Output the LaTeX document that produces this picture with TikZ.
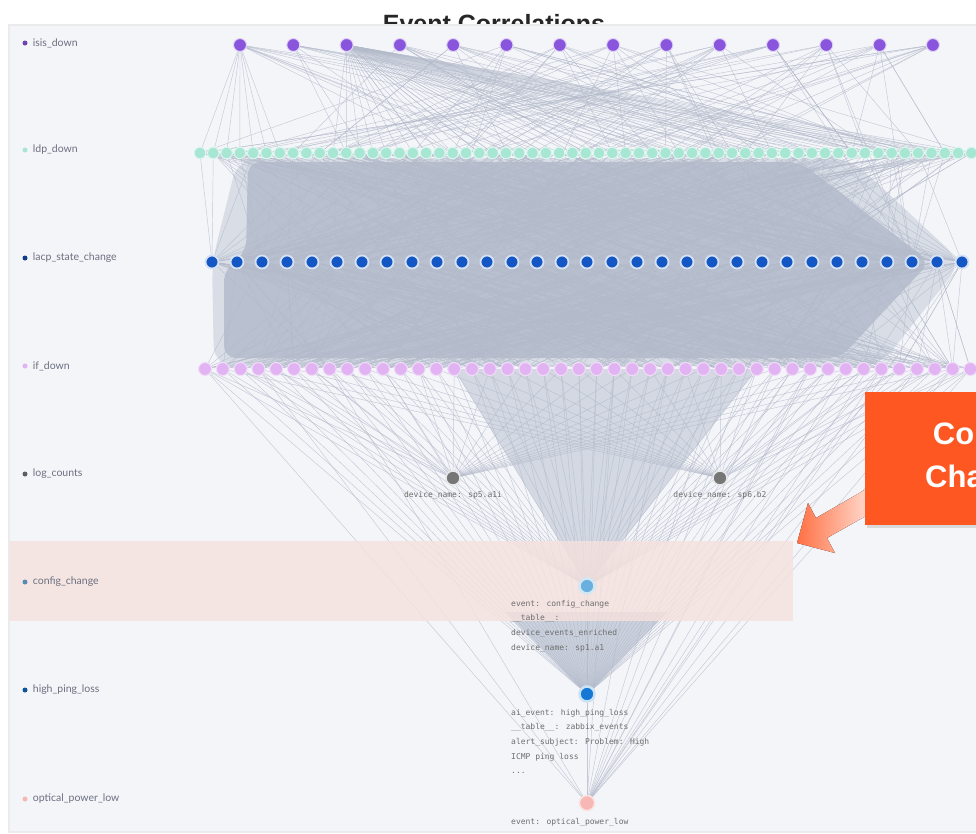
\documentclass[tikz,border=0pt]{standalone}
\usepackage{fontspec}
\setmainfont{Lato}
\newfontfamily\headfont{Liberation Sans}
\newfontfamily\codefont{DejaVu Sans Mono}
\usetikzlibrary{positioning}
\definecolor{panelbg}{HTML}{F4F5F9}
\definecolor{wirec}{HTML}{B3BACA}
\definecolor{meshc}{HTML}{B9C1D0}
\definecolor{labelc}{HTML}{6B7080}
\definecolor{codec}{HTML}{6E6E6E}
\definecolor{isisc}{HTML}{8A55DD}
\definecolor{ldpc}{HTML}{A6E6D2}
\definecolor{lacpc}{HTML}{1457C4}
\definecolor{ifc}{HTML}{E2B3F2}
\definecolor{logc}{HTML}{767676}
\definecolor{cfgc}{HTML}{6AB0DE}
\definecolor{hplc}{HTML}{1478D4}
\definecolor{oplc}{HTML}{F6B7B5}
\definecolor{bandc}{HTML}{F6E1DD}
\definecolor{calloutc}{HTML}{FF5722}
\pgfdeclarelayer{panel}
\pgfdeclarelayer{wires}
\pgfdeclarelayer{band}
\pgfsetlayers{panel,wires,band,main}
\begin{document}
\begin{tikzpicture}[
  x=1pt, y=-1pt,
  dot/.style={circle, inner sep=0pt},
  isisdot/.style={dot, fill=isisc, draw=isisc!25, line width=1pt, minimum size=13pt},
  ldpdot/.style={dot, fill=ldpc, draw=ldpc!40, line width=1pt, minimum size=11.5pt},
  lacpdot/.style={dot, fill=lacpc, draw=lacpc!18, line width=1.8pt, minimum size=13pt},
  ifdot/.style={dot, fill=ifc, draw=ifc!45, line width=1pt, minimum size=13pt},
  logdot/.style={dot, fill=logc, draw=logc!18, line width=1.5pt, minimum size=14pt},
  legdot/.style={dot, minimum size=5pt},
  rowlabel/.style={anchor=west, inner sep=0pt, text=labelc, font=\fontsize{10.5}{12}\selectfont},
  codelabel/.style={anchor=north west, inner sep=0pt, align=left, text=codec, font=\codefont\fontsize{8}{14.6}\selectfont},
  wire/.style={draw=wirec, line width=0.45pt, draw opacity=0.75}
]
\useasboundingbox (0,0) rectangle (976,833);

% title and panel
\begin{pgfonlayer}{panel}
\fill[white] (0,0) rectangle (976,833);
\node[font=\headfont\bfseries\fontsize{25}{30}\selectfont, text=black!85] (title) at (494,24) {Event Correlations};
\fill[black!8] (8,24) rectangle (976,833);
\fill[panelbg] (10,26) rectangle (976,831);
\end{pgfonlayer}

% legend
\node[legdot, fill=isisc!80!black] (kisis) at (25,43) {};
\node[rowlabel, right=5pt of kisis] (lisis) {isis\_down};
\node[legdot, fill=ldpc] (kldp) at (25,150) {};
\node[rowlabel, right=5pt of kldp] (lldp) {ldp\_down};
\node[legdot, fill=lacpc!70!black] (klacp) at (25,258) {};
\node[rowlabel, right=5pt of klacp] (llacp) {lacp\_state\_change};
\node[legdot, fill=ifc] (kif) at (25,366) {};
\node[rowlabel, right=5pt of kif] (lif) {if\_down};
\node[legdot, fill=logc!80!black] (klog) at (25,474) {};
\node[rowlabel, right=5pt of klog] (llog) {log\_counts};
\node[legdot, fill=cfgc!80!black] (kcfg) at (25,582) {};
\node[rowlabel, right=5pt of kcfg] (lcfg) {config\_change};
\node[legdot, fill=hplc!70!black] (khpl) at (25,690) {};
\node[rowlabel, right=5pt of khpl] (lhpl) {high\_ping\_loss};
\node[legdot, fill=oplc] (kopl) at (25,799) {};
\node[rowlabel, right=5pt of kopl] (lopl) {optical\_power\_low};

% event rows
\foreach \i in {1,...,14}
  \node[isisdot] (isis\i) at ({240+53.3*(\i-1)},45) {};
\foreach \i in {1,...,59}
  \node[ldpdot] (ldp\i) at ({200+13.3*(\i-1)},153) {};
\foreach \i in {1,...,31}
  \node[lacpdot] (lacp\i) at ({212+25*(\i-1)},262) {};
\foreach \i in {1,...,44}
  \node[ifdot] (ifd\i) at ({205+17.8*(\i-1)},369) {};

\node[logdot] (logA) at (453,478) {};
\node[codelabel, anchor=north] (logAtxt) at (453,491) {device\_name: sp5.a1i};
\node[logdot] (logB) at (720,478) {};
\node[codelabel, anchor=north] (logBtxt) at (720,491) {device\_name: sp6.b2};

\node[dot, fill=cfgc, draw=cfgc!30, line width=2.5pt, minimum size=15pt] (cfg) at (587,586) {};
\node[codelabel] (cfgtxt) at (511,600) {event: config\_change\\\_\_table\_\_:\\device\_events\_enriched\\device\_name: sp1.a1};
\node[dot, fill=hplc, draw=hplc!22, line width=2.5pt, minimum size=15pt] (hpl) at (587,694) {};
\node[codelabel] (hpltxt) at (511,709) {ai\_event: high\_ping\_loss\\\_\_table\_\_: zabbix\_events\\alert\_subject: Problem: High\\ICMP ping loss\\...};
\node[dot, fill=oplc, draw=oplc!40, line width=1.5pt, minimum size=15pt] (opl) at (587,803) {};
\node[codelabel] (opltxt) at (511,818) {event: optical\_power\_low};

% correlations
\begin{pgfonlayer}{wires}
\pgfmathsetseed{4211}
\fill[meshc, opacity=0.45, rounded corners=20pt] (238,158) -- (850,158) -- (962,262) -- (880,366) -- (214,366) -- (212,262) -- cycle;
\fill[meshc, rounded corners=12pt] (248,162) -- (800,162) -- (930,262) -- (840,358) -- (224,358) -- (224,270) -- (246,252) -- cycle;
\fill[meshc, opacity=0.55] (ifd15.center) -- (ifd32.center) -- (cfg.center) -- cycle;
\fill[meshc, opacity=0.7] (505,612) -- (668,612) -- (hpl.center) -- cycle;
\foreach \i in {1,...,14}{
  \foreach \k in {1,...,8}{
    \pgfmathrandominteger{\j}{1}{59}
    \draw[wire] (isis\i) -- (ldp\j);
  }
  \pgfmathrandominteger{\j}{1}{31}
  \draw[wire] (isis\i) -- (lacp\j);
}
\foreach \j in {12,13,...,59}
  \draw[wire] (isis3) -- (ldp\j);
\foreach \j in {1,...,7}
  \draw[wire] (isis1) -- (ldp\j);
\foreach \i in {1,...,31}{
  \foreach \k in {1,...,12}{
    \pgfmathrandominteger{\j}{1}{59}
    \draw[wire] (lacp\i) -- (ldp\j);
    \pgfmathrandominteger{\j}{1}{44}
    \draw[wire] (lacp\i) -- (ifd\j);
  }
}
\foreach \i in {1,...,44}{
  \draw[wire] (ifd\i) -- (cfg);
  \draw[wire] (ifd\i) -- (hpl);
}
\foreach \i in {1,3,...,43}
  \draw[wire] (ifd\i) -- (logA);
\foreach \i in {2,4,...,44}
  \draw[wire] (ifd\i) -- (logB);
\foreach \i in {1,4,8,24,27,30,33,35,37,39,41,43,44}
  \draw[wire] (ifd\i) -- (opl);
\foreach \i in {24,27,30,31}
  \draw[wire] (lacp\i) -- (opl);
\draw[wire] (cfg) -- (hpl);
\draw[wire] (hpl) -- (opl);
\end{pgfonlayer}

% highlighted row
\begin{pgfonlayer}{band}
\fill[bandc, opacity=0.8] (10,541) rectangle (793,621);
\end{pgfonlayer}

% callout
\coordinate (tip) at (797,543);
\fill[left color=calloutc!85, right color=calloutc!12, shading angle=90]
  (tip) -- (808,503) -- (816,518) -- (868,488) -- (880,508) -- (827,538) -- (835,553) -- cycle;
\fill[black!15] (867,395) rectangle (1100,528);
\node[fill=calloutc, minimum width=234pt, minimum height=133pt, inner sep=0pt, text=white,
      align=center, font=\headfont\bfseries\fontsize{31}{43}\selectfont] (callout) at (982,458.5) {Config\\Change};
\end{tikzpicture}
\end{document}
